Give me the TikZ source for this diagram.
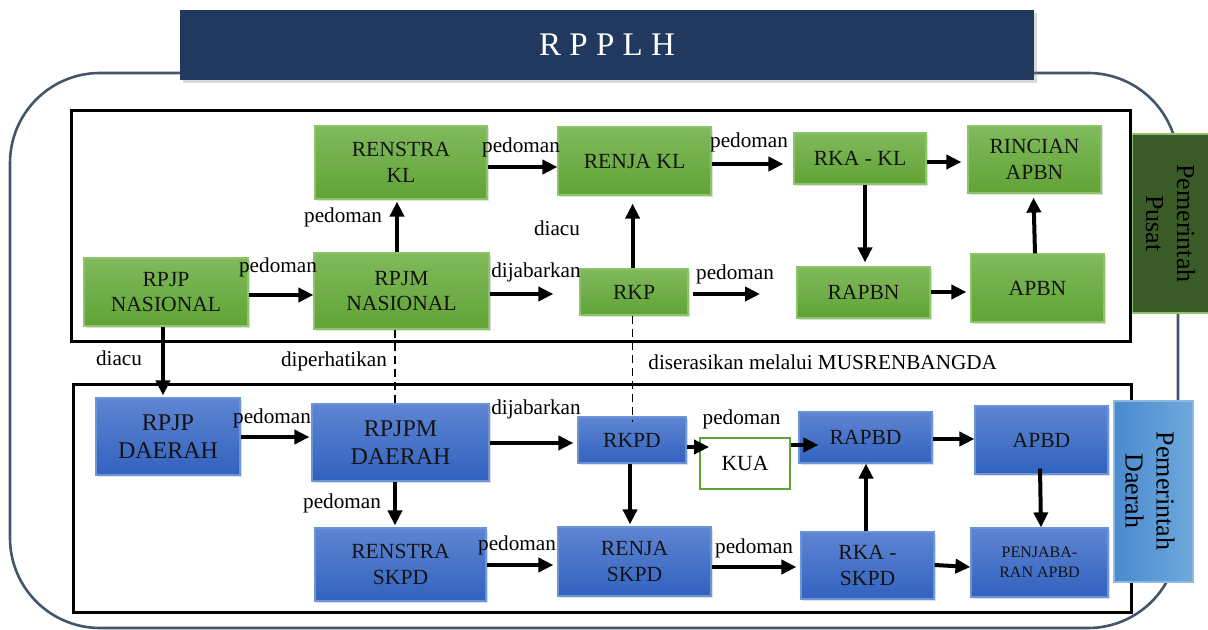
\documentclass[tikz,border=0pt]{standalone}
\usepackage{fontspec}
\setmainfont{Liberation Serif}
\usetikzlibrary{arrows.meta,shadows}
\definecolor{navy}{HTML}{22395F}
\definecolor{outline}{HTML}{44546A}
\definecolor{gtop}{HTML}{80BA5C}
\definecolor{gbot}{HTML}{61A336}
\definecolor{gborder}{HTML}{8CC46A}
\definecolor{btop}{HTML}{5E85D2}
\definecolor{bbot}{HTML}{3262BF}
\definecolor{bborder}{HTML}{6F93D8}
\definecolor{pusat}{HTML}{3A5A27}
\definecolor{dleft}{HTML}{4A8BCF}
\definecolor{dright}{HTML}{6EA8DC}
\tikzset{
  gbox/.style={rectangle, draw=gborder, line width=0.6pt, top color=gtop, bottom color=gbot,
    align=center, inner sep=1pt, text=black!92, font=\fontsize{10.8}{12.8}\selectfont,
    drop shadow={opacity=0.25, shadow xshift=1.2pt, shadow yshift=-1.2pt}},
  bbox/.style={rectangle, draw=bborder, line width=0.6pt, top color=btop, bottom color=bbot,
    align=center, inner sep=1pt, text=black!92, font=\fontsize{10.8}{12.8}\selectfont,
    drop shadow={opacity=0.25, shadow xshift=1.2pt, shadow yshift=-1.2pt}},
  bigtext/.style={font=\fontsize{12}{13.8}\selectfont},
  arr/.style={line width=2pt, -{Triangle[length=7.5pt,width=7pt]}},
  lbl/.style={inner sep=0pt, font=\fontsize{10.6}{12}\selectfont},
  dashline/.style={line width=0.8pt, dash pattern=on 4pt off 2.5pt},
  frame/.style={draw=black, line width=1.5pt},
}
\begin{document}
\begin{tikzpicture}[x=0.5pt, y=-0.5pt]
\useasboundingbox (0,0) rectangle (1208,630);
% outer rounded rectangle
\draw[outline, line width=1.3pt, rounded corners=45pt] (10,73) rectangle (1178,628);
% frames
\draw[frame] (71,111) rectangle (1130,341);
\draw[frame] (73,384) rectangle (1131,612);
% title
\node[rectangle, fill=navy, minimum width=427pt, minimum height=35pt, inner sep=0pt,
  drop shadow={opacity=0.3, shadow xshift=1.5pt, shadow yshift=-1.5pt},
  text=white, font=\fontsize{16.5}{18}\selectfont] (title) at (607,45) {R P P L H};
% side labels
\node[rectangle, fill=pusat, draw=gborder, line width=0.6pt, minimum width=38pt, minimum height=89.5pt,
  inner sep=0pt] (pusatbox) at (1170.5,223.5) {};
\node[rotate=-90, align=center, font=\fontsize{13}{15.5}\selectfont, text=black] (pusattxt) at (pusatbox.center) {Pemerintah\\Pusat};
\node[rectangle, left color=dleft, right color=dright, draw=dright!80!white, line width=0.6pt,
  minimum width=39.5pt, minimum height=90.5pt, inner sep=0pt] (daerahbox) at (1153.5,491.5) {};
\node[rotate=-90, align=center, font=\fontsize{13}{15.5}\selectfont, text=black] (daerahtxt) at (1150,491) {Pemerintah\\Daerah};
% green boxes
\node[gbox, minimum width=86pt, minimum height=36.5pt] (renstrakl) at (401,162.5) {RENSTRA\\KL};
\node[gbox, minimum width=76.5pt, minimum height=34pt] (renjakl) at (634.5,161) {RENJA KL};
\node[gbox, minimum width=66pt, minimum height=25.5pt] (rkakl) at (860,158.5) {RKA - KL};
\node[gbox, minimum width=66.5pt, minimum height=33.5pt] (rincian) at (1034.5,159.5) {RINCIAN\\APBN};
\node[gbox, minimum width=82pt, minimum height=34pt] (rpjpnas) at (166,292) {RPJP\\NASIONAL};
\node[gbox, minimum width=87.5pt, minimum height=38pt] (rpjmnas) at (401.5,291) {RPJM\\NASIONAL};
\node[gbox, minimum width=54pt, minimum height=23pt] (rkp) at (634,292) {RKP};
\node[gbox, minimum width=66.5pt, minimum height=25.5pt] (rapbn) at (863.5,292.5) {RAPBN};
\node[gbox, minimum width=66.5pt, minimum height=34pt] (apbn) at (1037.5,288) {APBN};
% blue boxes
\node[bbox, bigtext, minimum width=72pt, minimum height=38.5pt] (rpjpd) at (168,436.5) {RPJP\\DAERAH};
\node[bbox, bigtext, minimum width=88.5pt, minimum height=38.5pt] (rpjpmd) at (400.5,442.5) {RPJPM\\DAERAH};
\node[bbox, minimum width=54pt, minimum height=23pt] (rkpd) at (632,440) {RKPD};
\node[rectangle, draw=gbot, line width=0.9pt, fill=white, minimum width=45pt, minimum height=25.5pt,
  font=\fontsize{10.8}{12.8}\selectfont, inner sep=0pt] (kua) at (745,463.5) {KUA};
\node[bbox, minimum width=66.5pt, minimum height=25.5pt] (rapbd) at (865.5,437.5) {RAPBD};
\node[bbox, minimum width=66.5pt, minimum height=34pt] (apbd) at (1041.5,440) {APBD};
\node[bbox, minimum width=85.5pt, minimum height=36.5pt] (renstraskpd) at (400.5,564.5) {RENSTRA\\SKPD};
\node[bbox, minimum width=76.5pt, minimum height=34.5pt] (renjaskpd) at (634.5,561.5) {RENJA\\SKPD};
\node[bbox, minimum width=66.5pt, minimum height=33.5pt] (rkaskpd) at (867.5,565.5) {RKA -\\SKPD};
\node[bbox, minimum width=68.5pt, minimum height=34.5pt, font=\fontsize{8}{10}\selectfont] (penjabaran) at (1039.5,562.5) {PENJABA-\\RAN APBD};
% top arrows
\draw[arr] (renstrakl.east |- 0,167) -- (renjakl.west |- 0,167);
\draw[arr] (renjakl.east |- 0,164) -- ([xshift=-5pt]rkakl.west |- 0,164);
\draw[arr] (rkakl.east |- 0,162) -- ([xshift=-3pt]rincian.west |- 0,162);
\draw[arr] (rkakl.south -| 865,0) -- ([yshift=2pt]rapbn.north -| 865,0);
\draw[arr] (apbn.north -| 1035,0) -- ([yshift=-2pt]rincian.south -| 1033.5,0);
\draw[arr] (rapbn.east |- 0,292) -- ([xshift=-2pt]apbn.west |- 0,292);
\coordinate (rkpend) at (760,294);
\draw[arr] ([xshift=2pt]rkp.east |- 0,294) -- (rkpend);
\draw[arr] (rkp.north -| 632.6,0) -- ([yshift=-4pt]renjakl.south -| 632.6,0);
\draw[arr] (rpjmnas.north -| 397,0) -- ([yshift=-1pt]renstrakl.south -| 397,0);
\draw[arr] (rpjpnas.east |- 0,295) -- (rpjmnas.west |- 0,295);
\draw[arr] (rpjmnas.east |- 0,294) -- ([xshift=-13pt]rkp.west |- 0,294);
% between levels
\draw[arr] (rpjpnas.south -| 163,0) -- ([yshift=1pt]rpjpd.north -| 163,0);
\draw[dashline] (rpjmnas.south -| 395,0) -- (rpjpmd.north -| 395,0);
\draw[dashline] (rkp.south -| 632.6,0) -- ([yshift=-3pt]rkpd.north -| 632.6,0);
% bottom arrows
\draw[arr] (rpjpd.east |- 0,437) -- ([xshift=-1pt]rpjpmd.west |- 0,437);
\draw[arr] (rpjpmd.east |- 0,443) -- ([xshift=-2pt]rkpd.west |- 0,443);
\draw[arr] (rpjpmd.south -| 395,0) -- ([yshift=1pt]renstraskpd.north -| 395,0);
\draw[arr] (renstraskpd.east |- 0,565) -- ([xshift=-2pt]renjaskpd.west |- 0,565);
\draw[arr] (rkpd.south -| 630,0) -- ([yshift=1pt]renjaskpd.north -| 630,0);
\draw[arr] (rkpd.east |- 0,447) -- ([xshift=5pt]kua.west |- 0,447);
\draw[arr] (kua.east |- 0,445) -- ([xshift=10pt]rapbd.west |- 0,445);
\draw[arr] (rapbd.east |- 0,439) -- (apbd.west |- 0,439);
\draw[arr] ([yshift=3pt]apbd.south -| 1040,0) -- (penjabaran.north -| 1041,0);
\draw[arr] (rkaskpd.north -| 866,0) -- (rapbd.south -| 866,0);
\draw[arr] (renjaskpd.east |- 0,567) -- ([xshift=-2pt]rkaskpd.west |- 0,567);
\draw[arr] (rkaskpd.east |- 0,565) -- (penjabaran.west |- 0,567);
% labels
\node[lbl] (l1) at (521,147) {pedoman};
\node[lbl] (l2) at (749,142) {pedoman};
\node[lbl] (l3) at (343,217) {pedoman};
\node[lbl] (l4) at (557,228) {diacu};
\node[lbl] (l5) at (278,267) {pedoman};
\node[lbl] (l6) at (536,272) {dijabarkan};
\node[lbl] (l7) at (735,274) {pedoman};
\node[lbl] (l8) at (119,358) {diacu};
\node[lbl] (l9) at (334,361) {diperhatikan};
\node[lbl, anchor=west] (l10) at (648,362) {diserasikan melalui MUSRENBANGDA};
\node[lbl] (l11) at (272,418) {pedoman};
\node[lbl] (l12) at (536,409) {dijabarkan};
\node[lbl] (l13) at (741.5,419) {pedoman};
\node[lbl] (l14) at (342,503) {pedoman};
\node[lbl] (l15) at (517,545) {pedoman};
\node[lbl] (l16) at (754,548) {pedoman};
\end{tikzpicture}
\end{document}
